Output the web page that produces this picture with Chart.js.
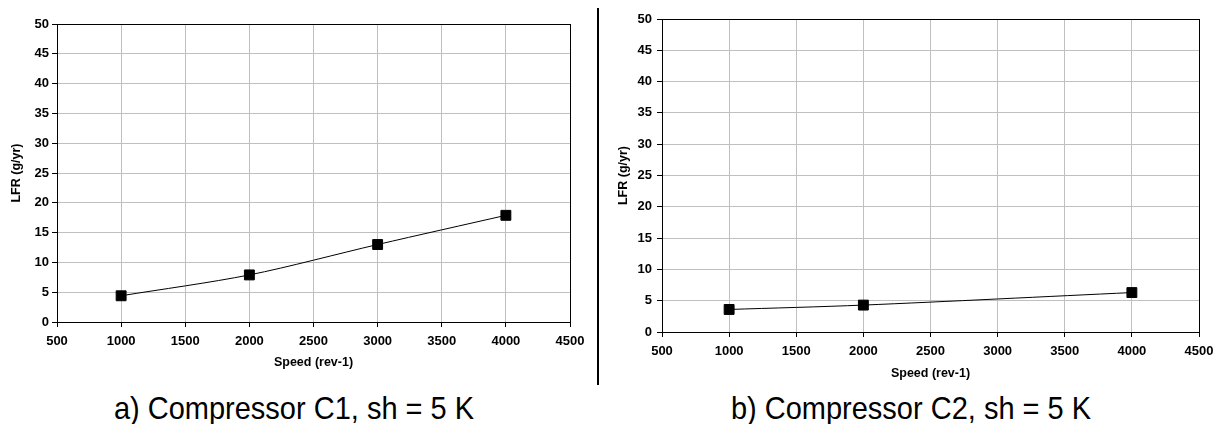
<!DOCTYPE html>
<html>
<head>
<meta charset="utf-8">
<script src="https://cdn.jsdelivr.net/npm/chart.js@4"></script>
<style>
  html, body { margin: 0; padding: 0; background: #fff; }
  body { width: 1222px; height: 424px; position: relative; overflow: hidden; font-family: "Liberation Sans", Arial, sans-serif; }
  canvas { position: absolute; top: 0; }
  #chartA { left: 0; }
  #chartB { left: 600px; }
  .divider { position: absolute; left: 597px; top: 8px; width: 2px; height: 377px; background: #000; }
  .caption { position: absolute; top: 394px; font-size: 29px; line-height: 29px; color: #000; white-space: nowrap; transform: translateX(-50%) scaleY(1.08); }
</style>
</head>
<body>
<canvas id="chartA" width="597" height="370"></canvas>
<canvas id="chartB" width="622" height="381"></canvas>
<div class="divider"></div>
<div class="caption" style="left:294px">a) Compressor C1, sh = 5 K</div>
<div class="caption" style="left:911px">b) Compressor C2, sh = 5 K</div>
<script>
// 資料：轉速 (rev-1) 與 LFR (g/yr)
const speedC1 = [1000, 2000, 3000, 4000];
const lfrC1 = [4.4, 7.9, 13.0, 17.9];
const speedC2 = [1000, 2000, 4000];
const lfrC2 = [3.6, 4.3, 6.3];

const xTitle = 'Speed (rev-1)';
const yTitle = 'LFR (g/yr)';

// 繪圖區外框 (Excel 風格的黑色邊框)
const frame = {
    id: 'frame',
    afterDraw(chart) {
        const { ctx, chartArea: a } = chart;
        ctx.save();
        ctx.strokeStyle = '#000';
        ctx.lineWidth = 1;
        ctx.strokeRect(Math.round(a.left) + 0.5, Math.round(a.top) + 0.5,
            Math.round(a.right - a.left), Math.round(a.bottom - a.top));
        ctx.restore();
    }
};

const tickFont = { family: '"Liberation Sans", Arial, sans-serif', size: 13, weight: 'bold' };
const titleFont = { family: '"Liberation Sans", Arial, sans-serif', size: 12.5, weight: 'bold' };

function renderChart(canvasId, xs, ys, box) {
    const ctx = document.getElementById(canvasId).getContext('2d');
    new Chart(ctx, {
        type: 'line',
        data: {
            datasets: [{
                data: xs.map((x, i) => ({ x: x, y: ys[i] })),
                borderColor: '#000',
                backgroundColor: '#000',
                borderWidth: 1,
                pointStyle: 'rect',
                pointRadius: 7,
                pointBorderWidth: 1,
                tension: 0.3
            }]
        },
        options: {
            responsive: false,
            animation: false,
            layout: { padding: { left: box.padLeft, top: box.top, right: box.padRight, bottom: 0 } },
            plugins: { legend: { display: false }, tooltip: { enabled: false } },
            scales: {
                x: {
                    type: 'linear',
                    min: 500, max: 4500,
                    afterFit: s => { s.height = box.xHeight; },
                    ticks: { stepSize: 500, color: '#000', font: tickFont, padding: 7, maxRotation: 0, callback: v => String(v) },
                    grid: { color: '#c0c0c0', tickColor: '#000', tickLength: 5 },
                    border: { color: '#000' },
                    title: { display: true, text: xTitle, color: '#000', font: titleFont, padding: 0 }
                },
                y: {
                    min: 0, max: 50,
                    afterFit: s => { s.width = box.yWidth; },
                    ticks: { stepSize: 5, color: '#000', font: tickFont, padding: box.yPad, callback: v => String(v) },
                    grid: { color: '#c0c0c0', tickColor: '#000', tickLength: 5 },
                    border: { color: '#000' },
                    title: { display: true, text: yTitle, color: '#000', font: titleFont, padding: 0 }
                }
            }
        },
        plugins: [frame]
    });
}

renderChart('chartA', speedC1, lfrC1, { padLeft: 9, padRight: 27, top: 24, yWidth: 48, xHeight: 48, yPad: 3 });
renderChart('chartB', speedC2, lfrC2, { padLeft: 16, padRight: 23, top: 19, yWidth: 46, xHeight: 49, yPad: 5 });
</script>
</body>
</html>
